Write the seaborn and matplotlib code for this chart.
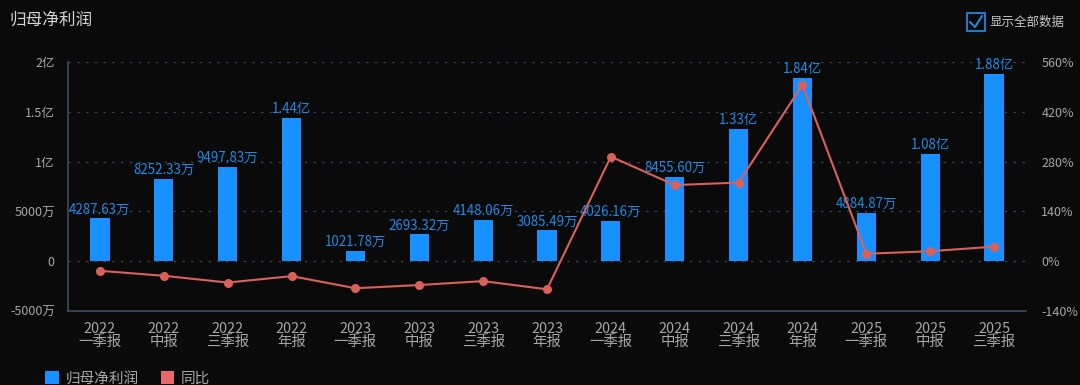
import numpy as np
import pandas as pd
import matplotlib
matplotlib.use("Agg")
import matplotlib.pyplot as plt
import seaborn as sns
from matplotlib.patches import Patch, Rectangle
from matplotlib.lines import Line2D

# data (profit in 万元, yoy in %)
periods = ["2022\n一季报", "2022\n中报", "2022\n三季报", "2022\n年报",
           "2023\n一季报", "2023\n中报", "2023\n三季报", "2023\n年报",
           "2024\n一季报", "2024\n中报", "2024\n三季报", "2024\n年报",
           "2025\n一季报", "2025\n中报", "2025\n三季报"]
profit = [4287.63, 8252.33, 9497.83, 14400, 1021.78, 2693.32, 4148.06, 3085.49,
          4026.16, 8455.60, 13300, 18400, 4884.87, 10800, 18800]
yoy = [-27, -41, -60, -42, -76, -67, -56, -79,
       294, 214, 221, 496, 21, 28, 41]

left_ticks = [-5000, 0, 5000, 10000, 15000, 20000]
left_labels = ["-5000万", "0", "5000万", "1亿", "1.5亿", "2亿"]
right_ticks = [-140, 0, 140, 280, 420, 560]
right_labels = ["-140%", "0%", "140%", "280%", "420%", "560%"]

BG = "#0a0a0b"
BLUE = "#1890ff"
LABEL_BLUE = "#1d8be6"
RED = "#d9615a"
GRID = "#3a4452"
TXT = "#a6a6a6"

sns.set_style("dark")
plt.rcParams["font.family"] = ["Noto Sans CJK SC", "DejaVu Sans"]
plt.rcParams["axes.unicode_minus"] = False

df = pd.DataFrame({"period": periods, "profit": profit, "yoy": yoy})

fig = plt.figure(figsize=(10.8, 3.85), dpi=100, facecolor=BG)
ax = fig.add_axes([68 / 1080, (385 - 311) / 385, 958 / 1080, 249 / 385])
ax.set_facecolor(BG)

sns.barplot(data=df, x="period", y="profit", color=BLUE, width=0.3,
            saturation=1, ax=ax, zorder=3, edgecolor="none", linewidth=0)
ax.set_xlim(-0.5, len(periods) - 0.5)
ax.set_ylim(-5000, 20000)
ax.set_yticks(left_ticks)
ax.set_yticklabels(left_labels)
ax.set_xlabel("")
ax.set_ylabel("")
ax.grid(False)
for t in left_ticks[1:]:
    ax.axhline(t, color=GRID, linestyle=(0, (2, 5)), linewidth=0.9, zorder=1)

for s in ["top", "right"]:
    ax.spines[s].set_visible(False)
for s in ["left", "bottom"]:
    ax.spines[s].set_visible(True)
    ax.spines[s].set_color("#3b4b5e")
    ax.spines[s].set_linewidth(1.2)
ax.tick_params(axis="both", length=0, colors=TXT, labelsize=9)
ax.tick_params(axis="y", pad=9.5)
ax.tick_params(axis="x", pad=8, labelsize=10.4)
for lab in ax.get_xticklabels():
    lab.set_linespacing(0.88)

def fmt(v):
    if v >= 10000:
        return f"{v / 10000:.2f}亿"
    return f"{v:.2f}万"

for i, v in enumerate(profit):
    ax.text(i, v + 200, fmt(v), ha="center", va="bottom", color=LABEL_BLUE,
            fontsize=9.6, zorder=5)

ax2 = ax.twinx()
sns.lineplot(x=np.arange(len(yoy)), y=yoy, ax=ax2, color=RED, linewidth=1.5,
             marker="o", markersize=6.5, markeredgewidth=0, zorder=4)
ax2.set_ylim(-140, 560)
ax2.set_yticks(right_ticks)
ax2.set_yticklabels(right_labels)
ax2.set_ylabel("")
ax2.grid(False)
for s in ["top", "right", "left", "bottom"]:
    ax2.spines[s].set_visible(False)
ax2.tick_params(axis="y", length=0, colors=TXT, labelsize=9, pad=11)

# title
fig.text(9 / 1080, 1 - 20 / 385, "归母净利润", color="#d4d4d4", fontsize=12,
         ha="left", va="center")

# checkbox
fig.patches.append(Rectangle((967 / 1080, 1 - 31 / 385), 18 / 1080, 18 / 385,
                             transform=fig.transFigure, fill=False,
                             edgecolor="#1e88d8", linewidth=1.3))
fig.lines.append(Line2D([970 / 1080, 975 / 1080, 982 / 1080],
                        [1 - 22 / 385, 1 - 27 / 385, 1 - 16 / 385],
                        transform=fig.transFigure, color="#1e88d8", linewidth=1.5))
fig.text(990 / 1080, 1 - 22 / 385, "显示全部数据", color="#c8c8c8", fontsize=9,
         ha="left", va="center")

# legend
handles = [Patch(facecolor=BLUE, edgecolor="none", label="归母净利润"),
           Patch(facecolor="#e8696a", edgecolor="none", label="同比")]
fig.legend(handles=handles, loc="lower left", bbox_to_anchor=(32 / 1080, -0.035),
           ncol=2, frameon=False, fontsize=10.5, labelcolor="#a8a8a8",
           handlelength=0.95, handleheight=0.95, handletextpad=0.45,
           columnspacing=1.5)

fig.savefig("out.png", dpi=100, facecolor=BG)
